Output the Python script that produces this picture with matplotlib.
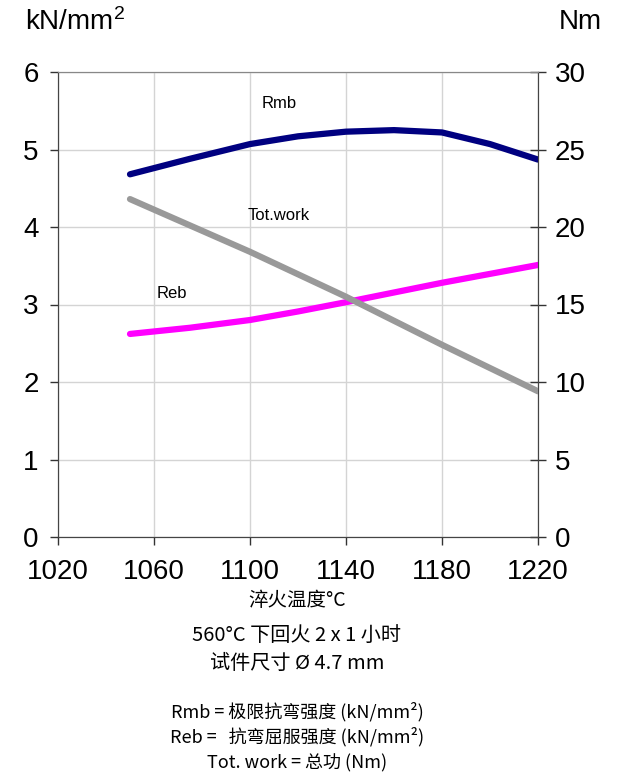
import matplotlib
matplotlib.use("Agg")
import matplotlib.pyplot as plt

# data
temp_rmb = [1050, 1075, 1100, 1120, 1140, 1160, 1180, 1200, 1220]
rmb = [4.68, 4.88, 5.07, 5.17, 5.23, 5.25, 5.22, 5.07, 4.87]

temp_reb = [1050, 1075, 1100, 1120, 1140, 1180, 1220]
reb = [2.62, 2.70, 2.80, 2.91, 3.03, 3.28, 3.51]

temp_work = [1050, 1100, 1140, 1180, 1220]
work = [21.8, 18.4, 15.5, 12.4, 9.4]

xticks = [1020, 1060, 1100, 1140, 1180, 1220]
lticks = [0, 1, 2, 3, 4, 5, 6]
rticks = [0, 5, 10, 15, 20, 25, 30]

notes = ["淬火温度°C", "560°C 下回火 2 x 1 小时", "试件尺寸 Ø 4.7 mm",
         "Rmb = 极限抗弯强度 (kN/mm²)", "Reb =   抗弯屈服强度 (kN/mm²)",
         "Tot. work = 总功 (Nm)"]

plt.rcParams['font.family'] = ['Liberation Sans', 'DejaVu Sans']
plt.rcParams['mathtext.fontset'] = 'custom'
plt.rcParams['mathtext.rm'] = 'Liberation Sans'

fig = plt.figure(figsize=(6.19, 7.78), dpi=100)
ax = fig.add_axes([58/619, 1-537/778, 480/619, 465/778])
ax2 = ax.twinx()

ax.plot(temp_rmb, rmb, color='#000080', lw=4.5, solid_capstyle='round', zorder=3)
ax.plot(temp_reb, reb, color='#ff00ff', lw=4.5, solid_capstyle='round', zorder=3)
ax2.plot(temp_work, work, color='#999999', lw=4.5, solid_capstyle='round', zorder=3)

ax.set_xlim(1020, 1220)
ax.set_ylim(0, 6)
ax2.set_ylim(0, 30)
ax.set_xticks(xticks)
ax.set_yticks(lticks)
ax2.set_yticks(rticks)
ax.grid(True, color='#d4d4d4', lw=1)

ax.tick_params(axis='both', labelsize=20, direction='out', length=6,
               color='#333333', width=1)
ax.tick_params(axis='x', pad=10)
ax.tick_params(axis='y', pad=8)
ax2.tick_params(axis='y', labelsize=20, direction='inout', length=12,
                color='#333333', width=1, pad=6)

for a in (ax, ax2):
    a.spines['top'].set_color('#888888')
    a.spines['bottom'].set_color('#444444')
    a.spines['left'].set_color('#444444')
    a.spines['right'].set_color('#444444')

ax.text(1105, 5.6, "Rmb", fontsize=12, va='center')
ax.text(1099, 4.15, "Tot.work", fontsize=12, va='center')
ax.text(1061, 3.14, "Reb", fontsize=12, va='center')

fig.text(25/619, 1-22/778, r"kN/mm$\mathrm{^2}$", fontsize=20, va='center')
fig.text(602/619, 1-22/778, "Nm", fontsize=20, va='center', ha='right')

cjk = ['Noto Sans CJK SC', 'DejaVu Sans']
ys = [601, 635, 663, 712, 737, 763]
sizes = [14, 14.5, 14.5, 13, 13, 13]
for s, y, fs in zip(notes, ys, sizes):
    fig.text(297/619, 1-y/778, s, fontsize=fs, family=cjk,
             ha='center', va='center')

fig.savefig("out.png", dpi=100)
